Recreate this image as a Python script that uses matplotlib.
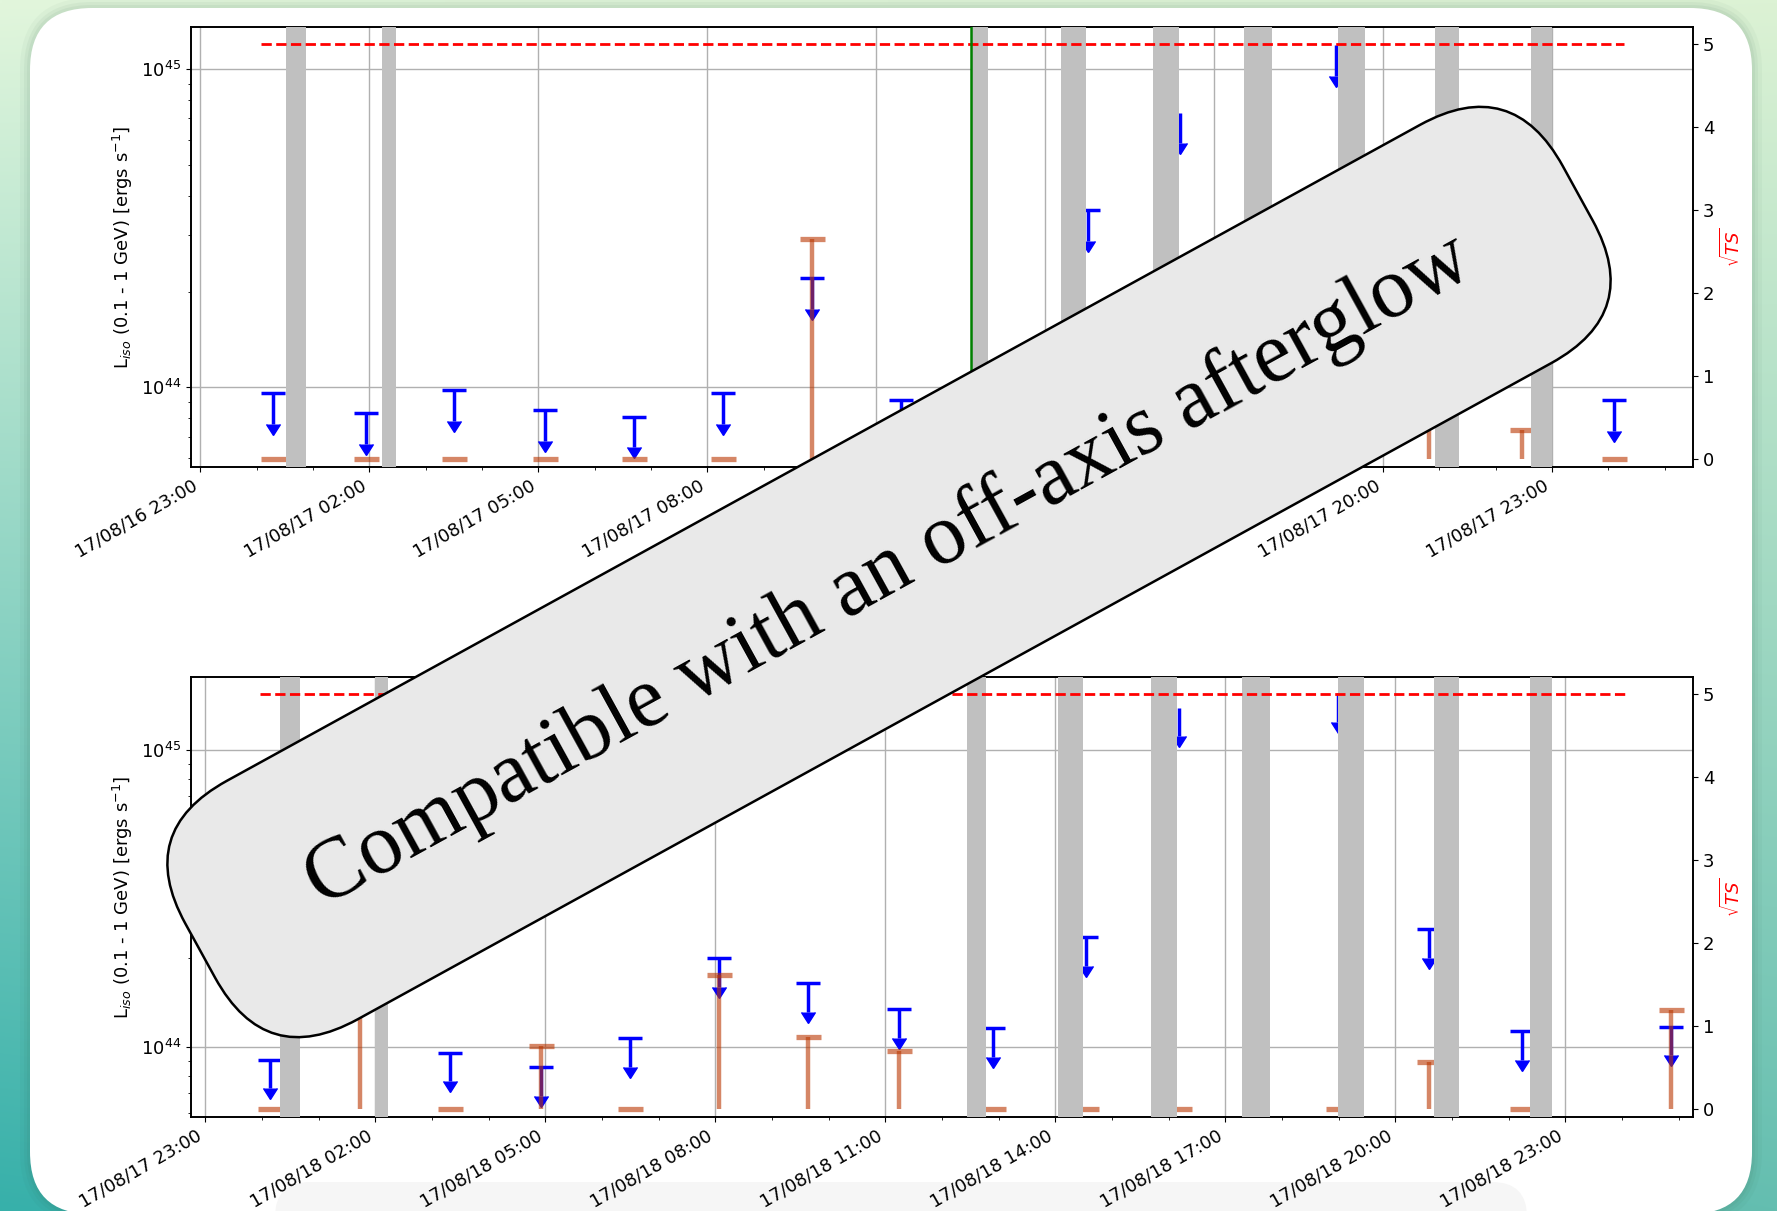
import numpy as np
import pandas as pd
import matplotlib
matplotlib.use('Agg')
import matplotlib.pyplot as plt
import matplotlib.dates as mdates
import matplotlib.lines as mlines
import matplotlib.transforms as mtransforms
from matplotlib.patches import FancyBboxPatch
from matplotlib.ticker import NullFormatter

# ---- values ----
# day 1 (17/08/16 23:00 -> 17/08/18 01:30)
day1_times = ['2017-08-17 00:17', '2017-08-17 01:56', '2017-08-17 03:30', '2017-08-17 05:07',
              '2017-08-17 06:42', '2017-08-17 08:17', '2017-08-17 09:51', '2017-08-17 11:26',
              '2017-08-17 13:03', '2017-08-17 14:46', '2017-08-17 16:24', '2017-08-17 19:10',
              '2017-08-17 20:49', '2017-08-17 22:28', '2017-08-18 00:06']
day1_ul = [9.6e43, 8.3e43, 9.8e43, 8.5e43, 8.1e43, 9.6e43, 2.2e44, 9.1e43,
           1.0e44, 3.6e44, 7.3e44, 1.19e45, 3.0e44, 2.5e44, 9.1e43]
day1_sqrt_ts = [0, 0, 0, 0, 0, 0, 2.65, 0, 0.3, 0, 0, 0, 0.8, 0.35, 0]
day1_saa = [('2017-08-17 00:31', '2017-08-17 00:53'), ('2017-08-17 02:13', '2017-08-17 02:28'),
            ('2017-08-17 12:41', '2017-08-17 12:59'), ('2017-08-17 14:17', '2017-08-17 14:43'),
            ('2017-08-17 15:55', '2017-08-17 16:23'), ('2017-08-17 17:32', '2017-08-17 18:02'),
            ('2017-08-17 19:12', '2017-08-17 19:41'), ('2017-08-17 20:55', '2017-08-17 21:21'),
            ('2017-08-17 22:37', '2017-08-17 23:00')]
day1_thr = ('2017-08-17 00:05', '2017-08-18 00:17')
day1_xlim = ('2017-08-16 22:50', '2017-08-18 01:30')
gw_trigger = '2017-08-17 12:41'

# day 2 (17/08/17 23:00 -> 17/08/19 01:15)
day2_times = ['2017-08-18 00:09', '2017-08-18 01:44', '2017-08-18 03:19', '2017-08-18 04:55',
              '2017-08-18 06:30', '2017-08-18 08:04', '2017-08-18 09:38', '2017-08-18 11:14',
              '2017-08-18 12:54', '2017-08-18 14:32', '2017-08-18 16:11', '2017-08-18 18:59',
              '2017-08-18 20:36', '2017-08-18 22:14', '2017-08-19 00:52']
day2_ul = [9.07e43, 3.0e44, 9.57e43, 8.53e43, 1.07e44, 1.99e44, 1.64e44, 1.34e44,
           1.16e44, 2.35e44, 1.39e45, 1.56e45, 2.5e44, 1.13e44, 1.17e44]
day2_sqrt_ts = [0, 1.8, 0, 0.76, 0, 1.61, 0.86, 0.70, 0, 0, 0, 0, 0.56, 0, 1.19]
day2_saa = [('2017-08-18 00:19', '2017-08-18 00:40'), ('2017-08-18 02:00', '2017-08-18 02:13'),
            ('2017-08-18 12:26', '2017-08-18 12:47'), ('2017-08-18 14:03', '2017-08-18 14:29'),
            ('2017-08-18 15:41', '2017-08-18 16:09'), ('2017-08-18 17:18', '2017-08-18 17:47'),
            ('2017-08-18 18:59', '2017-08-18 19:27'), ('2017-08-18 20:41', '2017-08-18 21:07'),
            ('2017-08-18 22:23', '2017-08-18 22:46')]
day2_thr = ('2017-08-17 23:58', '2017-08-19 00:04')
day2_xlim = ('2017-08-17 22:45', '2017-08-19 01:15')

note = 'Compatible with an off-axis afterglow'

W, H = 1777, 1211
fig = plt.figure(figsize=(W / 100, H / 100), dpi=100)

# slide background: gradient + white rounded card
bg = fig.add_axes([0, 0, 1, 1], zorder=-5)
gy, gx = np.mgrid[0:1:240j, 0:1:360j]
tl = np.array([226, 246, 220]) / 255
tr = np.array([220, 242, 212]) / 255
bl = np.array([55, 176, 170]) / 255
br = np.array([100, 190, 176]) / 255
img = (tl * ((1 - gx) * (1 - gy))[..., None] + tr * (gx * (1 - gy))[..., None]
       + bl * ((1 - gx) * gy)[..., None] + br * (gx * gy)[..., None])
bg.imshow(img, extent=(0, W, H, 0), aspect='auto', interpolation='bilinear')
for k, a in [(10, 0.04), (6, 0.05), (3, 0.06)]:
    bg.add_patch(FancyBboxPatch((30 - k, 8 - k), 1722 + 2 * k, 1206 + 2 * k,
                                boxstyle=f'round,pad=0,rounding_size={62 + k}',
                                fc='#2f5f48', ec='none', alpha=a))
bg.add_patch(FancyBboxPatch((30, 8), 1722, 1206, boxstyle='round,pad=0,rounding_size=62',
                            fc='white', ec='none'))
bg.add_patch(FancyBboxPatch((275, 1182), 1252, 80, boxstyle='round,pad=0,rounding_size=35',
                            fc='#f6f6f6', ec='none'))
bg.set_xlim(0, W)
bg.set_ylim(H, 0)
bg.axis('off')

ts_color = (0.73, 0.21, 0.0)


def panel(rect, times, ul, sqrt_ts, saa, thr, xlim, ylim, gw=None):
    t = pd.to_datetime(times)
    ul = np.array(ul)
    ax = fig.add_axes(rect)
    ax2 = ax.twinx()

    # upper limits (blue)
    low = ul * 0.8
    ax.vlines(t, low, ul, color='b', lw=2.5, zorder=3)
    capped = ul < 5e44
    ax.plot(t[capped], ul[capped], ls='none', marker='_', ms=17, mew=2.5, color='b', zorder=3)
    ax.plot(t, low, ls='none', marker=mlines.CARETDOWNBASE, ms=10.5, color='b', zorder=3)

    # sqrt(TS) (right axis)
    ax2.vlines(t, 0, sqrt_ts, color=ts_color, alpha=0.6, lw=3.2, zorder=2)
    ax2.plot(t, sqrt_ts, ls='none', marker='_', ms=18, mew=3.8, color=ts_color, alpha=0.6, zorder=2)

    for s, e in saa:
        ax2.axvspan(pd.Timestamp(s), pd.Timestamp(e), color='#c0c0c0', lw=0, zorder=3)
    ax2.plot(pd.to_datetime(list(thr)), [5, 5], 'r--', lw=2, zorder=4)
    if gw is not None:
        ax2.axvline(pd.Timestamp(gw), color='green', lw=1.8, zorder=4)

    ax.set_yscale('log')
    ax.set_ylim(*ylim)
    ax2.set_ylim(-0.1, 5.21)
    ax.set_xlim(pd.Timestamp(xlim[0]), pd.Timestamp(xlim[1]))
    ax.xaxis.set_major_locator(mdates.HourLocator(byhour=range(2, 24, 3)))
    ax.xaxis.set_minor_locator(mdates.HourLocator())
    ax.xaxis.set_major_formatter(mdates.DateFormatter('%y/%m/%d %H:%M'))
    ax.yaxis.set_minor_formatter(NullFormatter())
    ax.grid(True, which='major', color='#b0b0b0', lw=1.0)
    ax.set_ylabel(r'L$_{iso}$ (0.1 - 1 GeV) [ergs s$^{-1}$]', fontsize=13)
    ax2.set_ylabel(r'$\sqrt{TS}$', color='red', fontsize=13)
    ax.tick_params(labelsize=13)
    ax2.tick_params(labelsize=13)
    plt.setp(ax.get_xticklabels(), rotation=30, ha='right')
    for a in (ax, ax2):
        for sp in a.spines.values():
            sp.set_linewidth(1.2)
    return ax


panel([0.1075, 0.6144, 0.8452, 0.3633], day1_times, day1_ul, day1_sqrt_ts, day1_saa,
      day1_thr, day1_xlim, (10 ** 43.75, 10 ** 45.132), gw=gw_trigger)
panel([0.1075, 0.0776, 0.8452, 0.3633], day2_times, day2_ul, day2_sqrt_ts, day2_saa,
      day2_thr, day2_xlim, (10 ** 43.764, 10 ** 45.246))

# rotated rounded callout (pixel units, centred on the note)
angle = 28.8
cx, cy = 889, H - 572
box = FancyBboxPatch((-786, -136), 1572, 272, boxstyle='round,pad=0,rounding_size=105',
                     fc='#e9e9e9', ec='black', lw=1.8, zorder=9,
                     transform=mtransforms.Affine2D().rotate_deg(angle).translate(cx, cy))
fig.add_artist(box)
fig.text(cx / W, cy / H, note, fontsize=62, family='Liberation Serif',
         rotation=angle, ha='center', va='center', zorder=10)

fig.savefig('out.png', dpi=100)
